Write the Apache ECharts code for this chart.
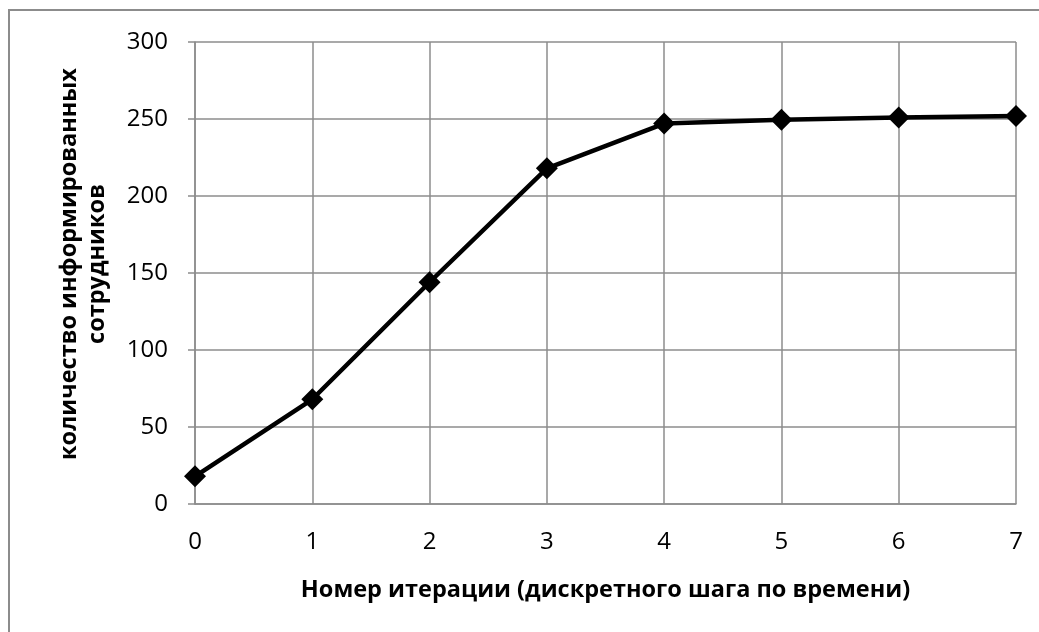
<!DOCTYPE html>
<html>
<head>
<meta charset="utf-8">
<title>Информированные сотрудники</title>
<script src="https://cdn.jsdelivr.net/npm/echarts@6/dist/echarts.min.js"></script>
<style>
  html, body { margin: 0; padding: 0; background: #fff; }
  #chart { width: 1039px; height: 632px; }
  /* рамка области диаграммы (видны только верх и лево) */
  .frame {
    position: absolute; left: 8px; top: 9px; right: -10px; bottom: -10px;
    border-top: 2px solid #8c8c8c; border-left: 2px solid #8c8c8c;
    pointer-events: none;
  }
</style>
</head>
<body>
<div id="chart"></div>
<div class="frame"></div>
<script>
// данные
const iterations = ["0", "1", "2", "3", "4", "5", "6", "7"];
const informed = [18, 68, 144, 218, 247, 249.5, 251, 252];

const chart = echarts.init(document.getElementById("chart"));

const font = "'Open Sans', 'DejaVu Sans', sans-serif";

chart.setOption({
  animation: false,
  grid: { left: 195, right: 23, top: 42, bottom: 128 },
  xAxis: {
    type: "category",
    data: iterations,
    boundaryGap: false,
    name: "Номер итерации (дискретного шага по времени)",
    nameLocation: "middle",
    nameGap: 74,
    nameTextStyle: { fontFamily: font, fontSize: 23.5, fontWeight: "bold", color: "#000" },
    axisLine: { lineStyle: { color: "#8c8c8c", width: 1.5 } },
    axisTick: { show: false },
    axisLabel: { fontFamily: font, fontSize: 24, color: "#000", margin: 26 },
    splitLine: { show: true, lineStyle: { color: "#8c8c8c", width: 1.5 } },
  },
  yAxis: {
    type: "value",
    min: 0,
    max: 300,
    interval: 50,
    name: "количество информированных\nсотрудников",
    nameLocation: "middle",
    nameGap: 84,
    nameRotate: 90,
    nameTextStyle: {
      fontFamily: font, fontSize: 23.5, fontWeight: "bold", color: "#000",
      lineHeight: 28, padding: [0, 0, 0, 18],
    },
    axisLine: { show: true, lineStyle: { color: "#8c8c8c", width: 1.5 } },
    axisTick: { show: true, length: 7, lineStyle: { color: "#8c8c8c", width: 1.5 } },
    axisLabel: { fontFamily: font, fontSize: 24, color: "#000", margin: 27 },
    splitLine: { show: true, lineStyle: { color: "#8c8c8c", width: 1.5 } },
  },
  series: [
    {
      type: "line",
      data: informed,
      symbol: "diamond",
      symbolSize: 22,
      lineStyle: { color: "#000", width: 4.5 },
      itemStyle: { color: "#000" },
    },
  ],
});
</script>
</body>
</html>
